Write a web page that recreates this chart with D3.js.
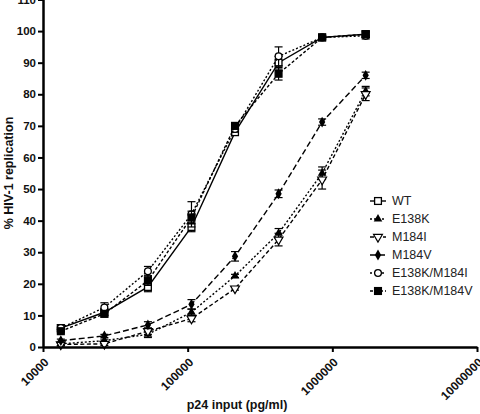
<!DOCTYPE html>
<body style="margin:0">
<script src="https://d3js.org/d3.v7.min.js"></script>
<script>
// p24 input (pg/ml), two-fold dilutions
var doses = [13281, 26562, 53125, 106250, 212500, 425000, 850000, 1700000];
var seriesNames = ['WT', 'E138K', 'M184I', 'M184V', 'E138K/M184I', 'E138K/M184V'];
var wt     = [6, 11, 19, 38, 68, 90, 98, 99];
var e138k  = [1, 2, 4, 11, 22.5, 36, 55, 81];
var m184i  = [0.8, 1, 5, 9, 18.5, 34, 53, 80];
var m184v  = [2, 3.5, 7, 13.5, 28.7, 48.5, 71.2, 86];
var e138kM184i = [6, 12.5, 24, 42, 69, 92, 98, 98.5];
var e138kM184v = [5, 10.5, 21, 41, 70, 86.5, 98, 99];
var errWt  = [0.5, 1, 1.5, 1.5, 1, 2, 0.5, 1];
var errE138k = [0.5, 0.5, 1, 1, 0.5, 1.5, 2, 1.5];
var errM184i = [0.5, 0.5, 1, 1, 0.5, 2, 3, 2];
var errM184v = [0.5, 0.5, 1, 1.5, 1.5, 1.2, 1, 1];
var errE138kM184i = [1, 1.5, 1.5, 4, 1, 3, 0.5, 1];
var errE138kM184v = [0.5, 1, 1.5, 2, 1, 2, 0.5, 1];
var yTicks = [0, 10, 20, 30, 40, 50, 60, 70, 80, 90, 100, 110];
var xTicks = [10000, 100000, 1000000, 10000000];

var values = [wt, e138k, m184i, m184v, e138kM184i, e138kM184v];
var errors = [errWt, errE138k, errM184i, errM184v, errE138kM184i, errE138kM184v];
var dashes = [null, '2,2', '4,2.5', '6,3', '2,2', '3,2'];
var symbols = ['squareOpen', 'triangle', 'triDownOpen', 'diamond', 'circleOpen', 'square'];

var width = 480, height = 414;
var svg = d3.select('body').append('svg')
    .attr('width', width)
    .attr('height', height)
    .style('font-family', 'Liberation Sans, Arial, sans-serif');

var x = d3.scaleLog().domain([10000, 10000000]).range([43, 477]);
var y = d3.scaleLinear().domain([0, 110]).range([347, -0.5]);

var series = seriesNames.map((name, i) => ({
    name: name,
    dash: dashes[i],
    symbol: symbols[i],
    points: doses.map((d, j) => ({dose: d, value: values[i][j], err: errors[i][j]}))
}));

var line = d3.line()
    .x(d => x(d.dose))
    .y(d => y(d.value));

function drawSymbol(g, type, cx, cy) {
    var s = 3.4;
    if (type == 'squareOpen' || type == 'square') {
        g.append('rect')
            .attr('x', cx - s).attr('y', cy - s)
            .attr('width', 2 * s).attr('height', 2 * s)
            .attr('fill', type == 'square' ? '#000' : '#fff')
            .attr('stroke', '#000').attr('stroke-width', 1.3);
    } else if (type == 'circleOpen') {
        g.append('circle')
            .attr('cx', cx).attr('cy', cy).attr('r', s)
            .attr('fill', '#fff').attr('stroke', '#000').attr('stroke-width', 1.3);
    } else if (type == 'triangle') {
        g.append('path')
            .attr('d', d3.symbol(d3.symbolTriangle, 32)())
            .attr('transform', 'translate(' + [cx, cy] + ')')
            .attr('fill', '#000');
    } else if (type == 'triDownOpen') {
        g.append('path')
            .attr('d', d3.symbol(d3.symbolTriangle, 34)())
            .attr('transform', 'translate(' + [cx, cy] + ') rotate(180)')
            .attr('fill', '#fff').attr('stroke', '#000').attr('stroke-width', 1.2);
    } else if (type == 'diamond') {
        g.append('path')
            .attr('d', d3.symbol(d3.symbolDiamond, 34)())
            .attr('transform', 'translate(' + [cx, cy] + ')')
            .attr('fill', '#000');
    }
}

// lines
var groups = svg.selectAll('g.series')
    .data(series)
    .enter().append('g')
    .attr('class', 'series');

groups.append('path')
    .attr('d', d => line(d.points))
    .attr('fill', 'none')
    .attr('stroke', '#000')
    .attr('stroke-width', 1.4)
    .attr('stroke-dasharray', d => d.dash);

// error bars
groups.each(function(s) {
    var g = d3.select(this);
    s.points.forEach(p => {
        var cx = x(p.dose);
        g.append('line')
            .attr('x1', cx).attr('x2', cx)
            .attr('y1', y(p.value - p.err)).attr('y2', y(p.value + p.err))
            .attr('stroke', '#000').attr('stroke-width', 1.2);
        [p.value - p.err, p.value + p.err].forEach(v => {
            g.append('line')
                .attr('x1', cx - 4).attr('x2', cx + 4)
                .attr('y1', y(v)).attr('y2', y(v))
                .attr('stroke', '#000').attr('stroke-width', 1.2);
        });
    });
});

// markers
groups.each(function(s) {
    var g = d3.select(this);
    s.points.forEach(p => drawSymbol(g, s.symbol, x(p.dose), y(p.value)));
});

// axes
var yAxis = svg.append('g')
    .attr('transform', 'translate(43,0)')
    .call(d3.axisLeft(y).tickValues(yTicks).tickSize(5).tickSizeOuter(0));
var xAxis = svg.append('g')
    .attr('transform', 'translate(0,347)')
    .call(d3.axisBottom(x).tickValues(xTicks).tickFormat(d3.format('d')).tickSize(5).tickSizeOuter(0));

[yAxis, xAxis].forEach(a => {
    a.select('.domain').attr('stroke-width', 2.5);
    a.selectAll('.tick line').attr('stroke-width', 2);
    a.selectAll('text')
        .style('font-weight', 'bold')
        .attr('fill', '#111');
});
yAxis.selectAll('text').attr('x', -7).style('font-size', '11.5px');
xAxis.selectAll('text')
    .style('font-size', '12px')
    .attr('text-anchor', 'end')
    .attr('x', 0)
    .attr('y', 0)
    .attr('dy', '0.35em')
    .attr('transform', 'translate(3,13) rotate(-45)');

svg.append('text')
    .attr('transform', 'translate(13,173) rotate(-90)')
    .attr('text-anchor', 'middle')
    .style('font-size', '12.5px')
    .style('font-weight', 'bold')
    .attr('fill', '#111')
    .text('% HIV-1 replication');

svg.append('text')
    .attr('x', 237)
    .attr('y', 409)
    .attr('text-anchor', 'middle')
    .style('font-size', '12.5px')
    .style('font-weight', 'bold')
    .attr('fill', '#111')
    .text('p24 input (pg/ml)');

// legend
var legend = svg.selectAll('g.legend')
    .data(series)
    .enter().append('g')
    .attr('class', 'legend')
    .attr('transform', (d, i) => 'translate(378,' + (201 + i * 18) + ')');
legend.append('line')
    .attr('x1', -8).attr('x2', 8)
    .attr('stroke', '#000').attr('stroke-width', 1.4)
    .attr('stroke-dasharray', d => d.dash);
legend.each(function(d) { drawSymbol(d3.select(this), d.symbol, 0, 0); });
legend.append('text')
    .attr('x', 14)
    .attr('dy', '0.35em')
    .style('font-size', '12.5px')
    .attr('fill', '#222')
    .text(d => d.name);
</script>
</body>
